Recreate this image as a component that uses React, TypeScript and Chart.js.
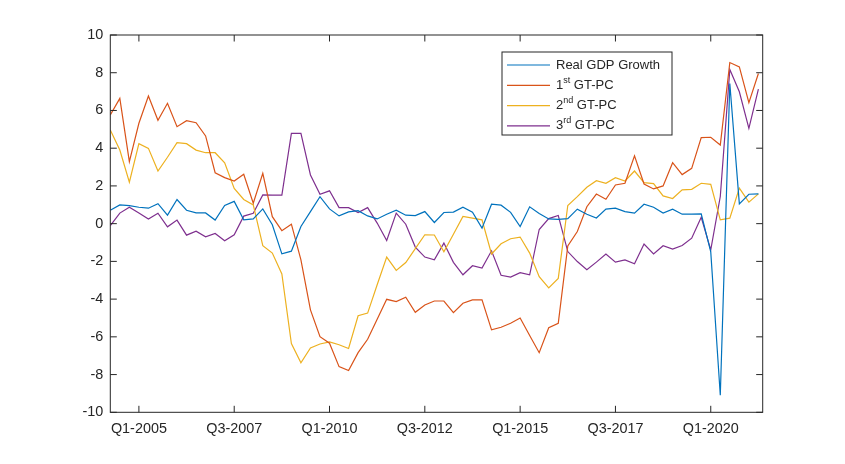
import { useEffect, useRef } from "react";
import { Chart, registerables } from "chart.js";

Chart.register(...registerables);

// quarters from Q2-2004 to Q2-2021
const quarters = [
  "Q2-2004", "Q3-2004", "Q4-2004",
  "Q1-2005", "Q2-2005", "Q3-2005", "Q4-2005",
  "Q1-2006", "Q2-2006", "Q3-2006", "Q4-2006",
  "Q1-2007", "Q2-2007", "Q3-2007", "Q4-2007",
  "Q1-2008", "Q2-2008", "Q3-2008", "Q4-2008",
  "Q1-2009", "Q2-2009", "Q3-2009", "Q4-2009",
  "Q1-2010", "Q2-2010", "Q3-2010", "Q4-2010",
  "Q1-2011", "Q2-2011", "Q3-2011", "Q4-2011",
  "Q1-2012", "Q2-2012", "Q3-2012", "Q4-2012",
  "Q1-2013", "Q2-2013", "Q3-2013", "Q4-2013",
  "Q1-2014", "Q2-2014", "Q3-2014", "Q4-2014",
  "Q1-2015", "Q2-2015", "Q3-2015", "Q4-2015",
  "Q1-2016", "Q2-2016", "Q3-2016", "Q4-2016",
  "Q1-2017", "Q2-2017", "Q3-2017", "Q4-2017",
  "Q1-2018", "Q2-2018", "Q3-2018", "Q4-2018",
  "Q1-2019", "Q2-2019", "Q3-2019", "Q4-2019",
  "Q1-2020", "Q2-2020", "Q3-2020", "Q4-2020",
  "Q1-2021", "Q2-2021",
];

// which quarters get a tick label
const xTickIdx = [3, 13, 23, 33, 43, 53, 63];
const yTicks = [-10, -8, -6, -4, -2, 0, 2, 4, 6, 8, 10];

const gdpGrowth = [
  0.71, 0.99, 0.96, 0.87, 0.82, 1.06, 0.45, 1.28, 0.71, 0.57,
  0.57, 0.19, 0.96, 1.18, 0.2, 0.25, 0.78, -0.06, -1.6, -1.46,
  -0.15, 0.64, 1.43, 0.78, 0.41, 0.62, 0.69, 0.41, 0.25, 0.5,
  0.71, 0.45, 0.43, 0.64, 0.06, 0.59, 0.61, 0.87, 0.61, -0.24,
  1.03, 0.98, 0.6, -0.15, 0.89, 0.54, 0.25, 0.23, 0.27, 0.77,
  0.5, 0.3, 0.77, 0.82, 0.64, 0.56, 1.03, 0.87, 0.56, 0.77,
  0.5, 0.5, 0.52, -1.5, -9.1, 7.43, 1.05, 1.56, 1.58,
];

const gtpc1 = [
  5.76, 6.64, 3.29, 5.32, 6.77, 5.48, 6.38, 5.14, 5.46, 5.35,
  4.65, 2.7, 2.44, 2.26, 2.62, 1.08, 2.67, 0.37, -0.37, -0.03,
  -1.92, -4.57, -5.99, -6.34, -7.58, -7.79, -6.84, -6.13, -5.07, -4.01,
  -4.13, -3.9, -4.7, -4.31, -4.1, -4.1, -4.72, -4.22, -4.04, -4.04,
  -5.63, -5.49, -5.28, -5.0, -5.93, -6.84, -5.52, -5.28, -1.18, -0.42,
  0.9, 1.57, 1.29, 2.05, 2.14, 3.59, 2.1, 1.84, 2.0, 3.23,
  2.6, 2.93, 4.56, 4.58, 4.17, 8.54, 8.31, 6.41, 7.96,
];

const gtpc2 = [
  4.96, 3.9, 2.2, 4.24, 3.99, 2.79, 3.52, 4.29, 4.24, 3.9,
  3.76, 3.76, 3.22, 1.87, 1.28, 0.99, -1.17, -1.56, -2.67, -6.36,
  -7.38, -6.59, -6.38, -6.27, -6.42, -6.62, -4.88, -4.74, -3.24, -1.77,
  -2.48, -2.06, -1.32, -0.59, -0.6, -1.49, -0.56, 0.38, 0.29, 0.2,
  -1.61, -1.07, -0.8, -0.71, -1.56, -2.81, -3.41, -2.9, 0.96, 1.43,
  1.93, 2.28, 2.14, 2.44, 2.26, 2.79, 2.17, 2.12, 1.47, 1.33,
  1.79, 1.82, 2.14, 2.08, 0.2, 0.29, 1.88, 1.14, 1.58,
];

const gtpc3 = [
  -0.1, 0.56, 0.87, 0.56, 0.24, 0.55, -0.17, 0.19, -0.61, -0.4,
  -0.7, -0.52, -0.91, -0.59, 0.4, 0.55, 1.52, 1.51, 1.51, 4.79,
  4.79, 2.58, 1.56, 1.74, 0.85, 0.85, 0.59, 0.85, 0.03, -0.89,
  0.56, -0.03, -1.24, -1.77, -1.92, -1.03, -2.05, -2.71, -2.23, -2.35,
  -1.44, -2.74, -2.83, -2.6, -2.71, -0.31, 0.27, 0.43, -1.48, -2.01,
  -2.44, -2.04, -1.61, -2.04, -1.92, -2.13, -1.08, -1.61, -1.17, -1.35,
  -1.16, -0.77, 0.34, -1.39, 1.44, 8.17, 6.99, 5.05, 7.13,
];

// legend text split as [base, superscript, rest]
const legendLabels = [
  ["Real GDP Growth", "", ""],
  ["1", "st", " GT-PC"],
  ["2", "nd", " GT-PC"],
  ["3", "rd", " GT-PC"],
];

const colors = ["#0072BD", "#D95319", "#EDB120", "#7E2F8E"];
const AXIS = "#262626";
const FONT = '"Liberation Sans", Arial, sans-serif';
const TICK_LEN = 6.5;

const toPoints = (arr: number[]) => arr.map((y, i) => ({ x: i, y }));

// MATLAB-ish box with inward ticks, plus the legend with superscripts
const matlabAxes = {
  id: "matlabAxes",
  afterDraw(chart: any) {
    const { ctx, chartArea: a, scales } = chart;
    ctx.save();
    ctx.strokeStyle = AXIS;
    ctx.lineWidth = 1;
    ctx.strokeRect(a.left, a.top, a.right - a.left, a.bottom - a.top);
    ctx.beginPath();
    for (const v of xTickIdx) {
      const x = scales.x.getPixelForValue(v);
      ctx.moveTo(x, a.bottom);
      ctx.lineTo(x, a.bottom - TICK_LEN);
      ctx.moveTo(x, a.top);
      ctx.lineTo(x, a.top + TICK_LEN);
    }
    for (const v of yTicks) {
      const y = scales.y.getPixelForValue(v);
      ctx.moveTo(a.left, y);
      ctx.lineTo(a.left + TICK_LEN, y);
      ctx.moveTo(a.right, y);
      ctx.lineTo(a.right - TICK_LEN, y);
    }
    ctx.stroke();

    // legend (MATLAB uses 90% of the axes font size)
    const box = { l: 502, t: 52, r: 672, b: 135 };
    ctx.fillStyle = "#fff";
    ctx.fillRect(box.l, box.t, box.r - box.l, box.b - box.t);
    ctx.strokeRect(box.l, box.t, box.r - box.l, box.b - box.t);
    legendLabels.forEach((parts, k) => {
      const y = 65 + k * 20.3;
      ctx.strokeStyle = chart.data.datasets[k].borderColor;
      ctx.lineWidth = 1.2;
      ctx.beginPath();
      ctx.moveTo(507, y);
      ctx.lineTo(550, y);
      ctx.stroke();
      ctx.fillStyle = AXIS;
      ctx.textBaseline = "middle";
      ctx.textAlign = "left";
      let x = 556;
      ctx.font = `13px ${FONT}`;
      ctx.fillText(parts[0], x, y);
      x += ctx.measureText(parts[0]).width;
      if (parts[1]) {
        ctx.font = `9px ${FONT}`;
        ctx.fillText(parts[1], x, y - 5);
        x += ctx.measureText(parts[1]).width;
        ctx.font = `13px ${FONT}`;
        ctx.fillText(parts[2], x, y);
      }
    });
    ctx.restore();
  },
};

export default function App() {
  const canvasRef = useRef<HTMLCanvasElement | null>(null);

  useEffect(() => {
    if (!canvasRef.current) return;
    const series = [gdpGrowth, gtpc1, gtpc2, gtpc3];
    const chart = new Chart(canvasRef.current, {
      type: "line",
      data: {
        datasets: series.map((s, k) => ({
          label: legendLabels[k].join(""),
          data: toPoints(s),
          borderColor: colors[k],
          backgroundColor: colors[k],
          borderWidth: 1.2,
          pointRadius: 0,
          tension: 0,
        })),
      },
      options: {
        animation: false,
        responsive: false,
        maintainAspectRatio: false,
        layout: { padding: { left: 0, top: 35, right: 82.3, bottom: 0 } },
        plugins: { legend: { display: false }, tooltip: { enabled: false } },
        scales: {
          x: {
            type: "linear",
            min: 0,
            max: 68.45,
            grid: { display: false, drawTicks: false, tickLength: 0 },
            border: { display: false },
            afterBuildTicks: (scale: any) => {
              scale.ticks = xTickIdx.map((v) => ({ value: v }));
            },
            afterFit: (scale: any) => {
              scale.height = 51.7;
            },
            ticks: {
              autoSkip: false,
              maxRotation: 0,
              padding: 8,
              color: AXIS,
              font: { family: FONT, size: 14.4 },
              callback: (v: any) => quarters[v] ?? "",
            },
          },
          y: {
            min: -10,
            max: 10,
            grid: { display: false, drawTicks: false, tickLength: 0 },
            border: { display: false },
            afterBuildTicks: (scale: any) => {
              scale.ticks = yTicks.map((v) => ({ value: v }));
            },
            afterFit: (scale: any) => {
              scale.width = 110.3;
            },
            ticks: {
              padding: 7,
              color: AXIS,
              font: { family: FONT, size: 14.4 },
              callback: (v: any) => String(v),
            },
          },
        },
      },
      plugins: [matlabAxes],
    });
    return () => chart.destroy();
  }, []);

  return (
    <div style={{ position: "absolute", left: 0, top: 0, width: 845, height: 464, background: "#fff" }}>
      <canvas ref={canvasRef} width={845} height={464} style={{ display: "block" }} />
    </div>
  );
}
